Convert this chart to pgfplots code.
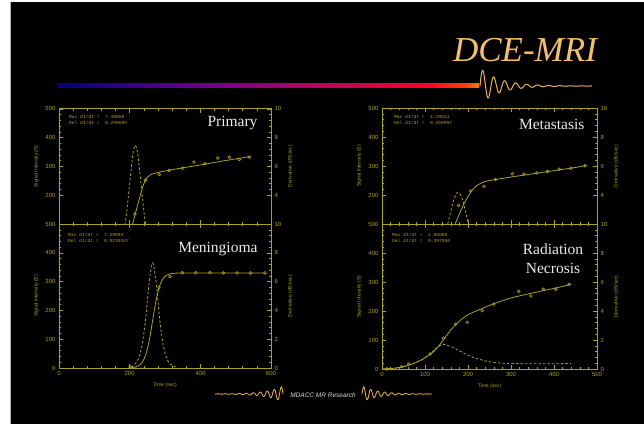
\documentclass[border=0pt]{standalone}
\usepackage{pgfplots}
\pgfplotsset{compat=1.18}
\usepackage{fontspec}
\setmainfont{Liberation Serif}
\setsansfont{Liberation Sans}
\setmonofont{Liberation Mono}
\definecolor{ax}{RGB}{172,162,28}
\definecolor{ttl}{RGB}{244,192,96}
\definecolor{wave}{RGB}{240,180,72}
\definecolor{lbl}{RGB}{236,236,226}
\pgfdeclarehorizontalshading{bar}{100bp}{rgb(0bp)=(0,0,0.5); rgb(25bp)=(0,0,0.5); rgb(45.5bp)=(0.5,0,0.55); rgb(69bp)=(1,0,0.15); rgb(73.5bp)=(1,0.25,0); rgb(75bp)=(1,0.5,0); rgb(100bp)=(1,0.5,0)}
\pgfplotsset{
  base/.style={scale only axis, anchor=south west, clip=true,
    axis line style={ax, line width=0.9pt},
    every tick/.style={ax, line width=0.5pt},
    major tick length=4pt, minor tick length=2pt, tick align=inside,
    ticklabel style={font=\sffamily\fontsize{6}{6}\selectfont, text=ax},
    every axis label/.append style={font=\sffamily\fontsize{5}{5}\selectfont, text=ax},
    /pgf/number format/assume math mode=true,
    scaled ticks=false, minor x tick num=4, minor y tick num=4},
  leftpanel/.style={base, width=212pt, xmin=0, xmax=600, xtick={0,200,400,600}},
  rightpanel/.style={base, width=215pt, xmin=0, xmax=500, xtick={0,100,200,300,400,500}},
  mainy/.style={ytick pos=left},
  dery/.style={axis y line*=right, hide x axis, minor y tick num=4, ylabel={Derivative (dS/sec)}},
  pts/.style={only marks, mark=o, mark size=1.4pt, ax, line width=0.6pt},
  fit/.style={ax, line width=0.8pt, smooth},
  der/.style={ax, line width=0.8pt, smooth, dash pattern=on 2.5pt off 2pt},
}
\begin{document}
\begin{tikzpicture}
\fill[white] (0pt,0pt) rectangle (644pt,424pt);
\fill[black] (10pt,0pt) rectangle (644pt,422pt);
\draw[gray!60, line width=0.6pt] (10pt,0pt) -- (10pt,422pt);
\useasboundingbox (0pt,0pt) rectangle (644pt,424pt);
% header
\node[anchor=base, text=ttl, font=\itshape\fontsize{35}{35}\selectfont] at (525pt,362pt) {DCE-MRI};
\shade[shading=bar] (57pt,336.5pt) rectangle (479pt,340.5pt);
\begin{scope}[x=1pt,y=1pt]
\draw[wave, line width=1pt, domain=0:112, samples=320, variable=\t] plot ({480+\t}, {338+18*exp(-\t/20)*sin(\t*32.727)});
\draw[wave, line width=0.8pt, domain=0:68, samples=240, variable=\t] plot ({283-\t}, {30+8*exp(-\t/16)*sin(\t*51.43)});
\draw[wave, line width=0.8pt, domain=0:70, samples=240, variable=\t] plot ({362+\t}, {30+8*exp(-\t/16)*sin(\t*51.43)});
\end{scope}
\node[text=lbl!85!gray, font=\sffamily\itshape\fontsize{6.5}{6.5}\selectfont] at (323pt,28.5pt) {MDACC MR Research};

% ---------- Primary (top left)
\begin{axis}[leftpanel, mainy, at={(59pt,200pt)}, height=115.2pt, ymin=100, ymax=500, ytick={200,300,400,500}, xticklabels={}, ylabel={Signal Intensity (S)}]
\addplot[pts] coordinates {(215,135) (245,252) (284,272) (312,286) (350,294) (382,315) (413,309) (449,329) (482,332) (510,324) (539,332)};
\addplot[fit] coordinates {(200,68) (208,100) (218,145) (228,190) (236,225) (243,248) (250,262) (258,270) (270,276) (300,284) (350,295) (400,305) (450,316) (500,326) (540,334)};
\end{axis}
\begin{axis}[leftpanel, dery, at={(59pt,200pt)}, height=115.2pt, ymin=2, ymax=10, ytick={4,6,8,10}]
\addplot[der] coordinates {(180,1.0) (185,1.7) (190,2.5) (195,3.6) (200,4.8) (205,6.0) (210,7.0) (216,7.47) (222,7.0) (227,6.0) (232,4.8) (237,3.6) (242,2.5) (247,1.7) (252,1.0)};
\end{axis}

% ---------- Meningioma (bottom left)
\begin{axis}[leftpanel, mainy, at={(59pt,56pt)}, height=144pt, ymin=0, ymax=500, ytick={0,100,200,300,400,500}, xlabel={Time (sec)}, ylabel={Signal Intensity (S)}]
\addplot[pts] coordinates {(201,4) (283,279) (314,317) (349,331) (387,331) (427,331) (465,330) (504,330) (542,330) (583,330)};
\addplot[fit] coordinates {(200,0) (215,3) (225,7.7) (235,18.9) (245,44.1) (255,93) (265,165) (275,237) (285,286) (295,311) (305,322.4) (315,327) (330,329.2) (350,330) (400,330) (500,330) (583,330)};
\end{axis}
\begin{axis}[leftpanel, dery, at={(59pt,56pt)}, height=144pt, ymin=0, ymax=10, ytick={0,2,4,6,8,10}]
\addplot[der] coordinates {(205,0.05) (215,0.27) (225,0.66) (235,1.57) (245,3.37) (255,5.92) (265,7.3) (275,5.92) (285,3.37) (295,1.57) (305,0.66) (315,0.27) (330,0.07)};
\end{axis}

% ---------- Metastasis (top right)
\begin{axis}[rightpanel, mainy, at={(382pt,200pt)}, height=116pt, ymin=100, ymax=500, ytick={200,300,400,500}, xticklabels={}, ylabel={Signal Intensity (S)}]
\addplot[pts] coordinates {(178,164) (206,214) (237,230) (264,253) (303,273) (330,272) (360,276) (385,281) (412,289) (439,292) (472,301)};
\addplot[fit] coordinates {(160,65) (170,100) (180,135) (190,168) (200,195) (210,217) (220,232) (235,244) (250,250) (300,262) (350,273) (400,284) (450,295) (475,302)};
\end{axis}
\begin{axis}[rightpanel, dery, at={(382pt,200pt)}, height=116pt, ymin=2, ymax=10, ytick={4,6,8,10}]
\addplot[der] coordinates {(137,0.53) (147,1.32) (157,2.51) (167,3.69) (177,4.2) (187,3.69) (197,2.51) (207,1.32) (217,0.53)};
\end{axis}

% ---------- Radiation Necrosis (bottom right)
\begin{axis}[rightpanel, mainy, at={(382pt,55pt)}, height=145pt, ymin=0, ymax=500, ytick={0,100,200,300,400,500}, xlabel={Time (sec)}, ylabel={Signal Intensity (S)}]
\addplot[pts] coordinates {(11,0) (46,8) (62,17) (112,52) (143,106) (171,155) (198,161) (233,201) (260,224) (318,267) (346,252) (375,275) (404,275) (435,292)};
\addplot[fit] coordinates {(0,0) (30,3) (60,12) (90,30) (120,60) (140,95) (160,135) (180,165) (200,187) (230,207) (260,225) (300,245) (350,262) (400,278) (440,292)};
\end{axis}
\begin{axis}[rightpanel, dery, at={(382pt,55pt)}, height=145pt, ymin=0, ymax=10, ytick={0,2,4,6,8,10}]
\addplot[der] coordinates {(0,0) (30,0.05) (60,0.25) (90,0.6) (110,1.0) (125,1.4) (140,1.7) (160,1.55) (180,1.25) (200,0.95) (220,0.72) (250,0.5) (280,0.4) (320,0.37) (380,0.36) (440,0.38)};
\end{axis}

% titles and annotations
\node[anchor=east, text=lbl, font=\fontsize{15.5}{15.5}\selectfont] at (261pt,301pt) {Primary};
\node[anchor=east, text=lbl, font=\fontsize{15.5}{15.5}\selectfont] at (261pt,175pt) {Meningioma};
\node[anchor=east, text=lbl, font=\fontsize{15.5}{15.5}\selectfont] at (588pt,300pt) {Metastasis};
\node[align=center, text=lbl, font=\fontsize{15.5}{19}\selectfont] at (553pt,165.5pt) {Radiation\\Necrosis};
\begin{scope}[every node/.style={anchor=north west, text=ax, align=left, font=\ttfamily\fontsize{4.6}{5.6}\selectfont, inner sep=0pt}]
\node at (69pt,309pt) {Max dI/dt = \ 7.46860\\Del dI/dt = \ 0.299695};
\node at (68pt,191pt) {Min dI/dt = \ 7.29893\\Del dI/dt = \ 0.0219347};
\node at (394pt,309pt) {Max dI/dt = \ 4.19524\\Del dI/dt = \ 0.250997};
\node at (392pt,191pt) {Max dI/dt = \ 1.85000\\Del dI/dt = \ 0.397950};
\end{scope}
\end{tikzpicture}
\end{document}
